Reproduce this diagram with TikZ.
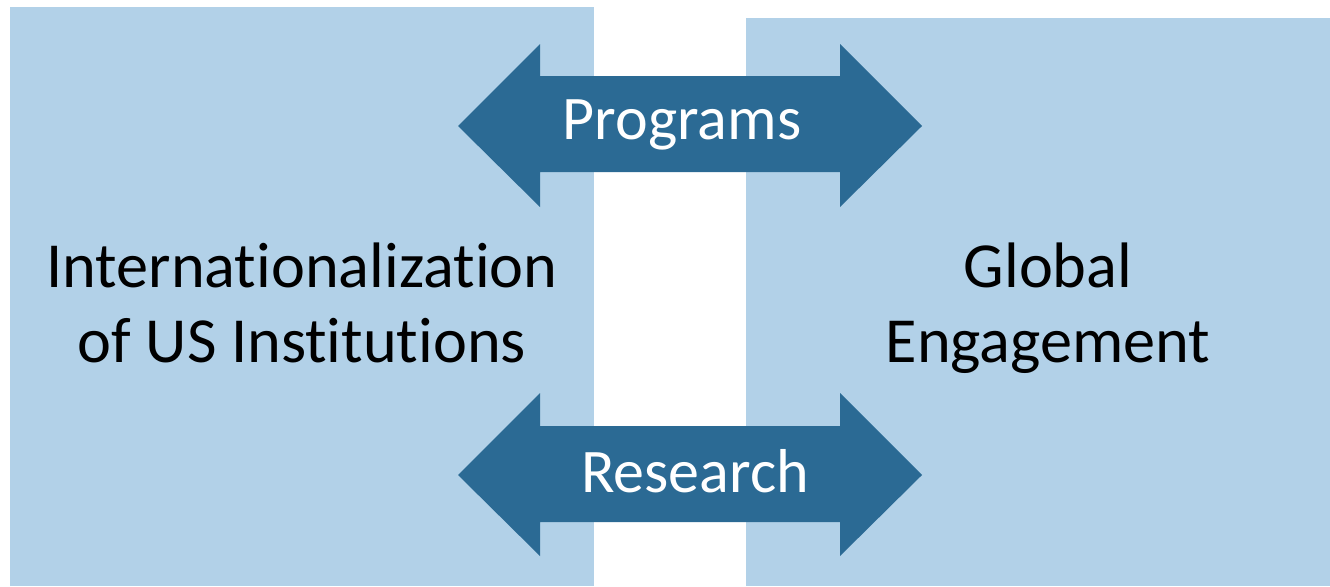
\documentclass[tikz,border=0pt]{standalone}
\usepackage{fontspec}
\setmainfont[Ligatures={NoCommon}]{Carlito}
\definecolor{lightbox}{RGB}{178,209,232}
\definecolor{darkarrow}{RGB}{43,106,148}
\tikzset{
  boxfill/.style={fill=lightbox, draw=none},
  arrowfill/.style={fill=darkarrow, draw=none},
  bigtext/.style={font=\fontsize{48.2}{56.25}\selectfont, inner sep=0pt, align=center, anchor=base},
  arrowtext/.style={font=\fontsize{46.5}{56.25}\selectfont, inner sep=0pt, anchor=base, text=white}
}
\begin{document}
\begin{tikzpicture}[x=0.75pt, y=-0.75pt]
\useasboundingbox (0,0) rectangle (1330,586);
% boxes
\fill[boxfill] (10,7) rectangle (594,586);
\fill[boxfill] (746,18) rectangle (1330,586);
% top double arrow
\fill[arrowfill] (458,126) -- (540,44) -- (540,76) -- (840,76) -- (840,44) -- (922,126)
  -- (840,207) -- (840,172) -- (540,172) -- (540,207) -- cycle;
% bottom double arrow
\fill[arrowfill] (458,475) -- (540,393) -- (540,426) -- (840,426) -- (840,393) -- (922,475)
  -- (840,556) -- (840,522) -- (540,522) -- (540,556) -- cycle;
% texts
\node[bigtext] (left) at (302,362) {Internationalization\\of US Institutions};
\node[bigtext] (right) at (1048,362) {Global\\Engagement};
\node[arrowtext] (prog) at (682,139) {Programs};
\node[arrowtext] (res) at (695,492) {Research};
\end{tikzpicture}
\end{document}
